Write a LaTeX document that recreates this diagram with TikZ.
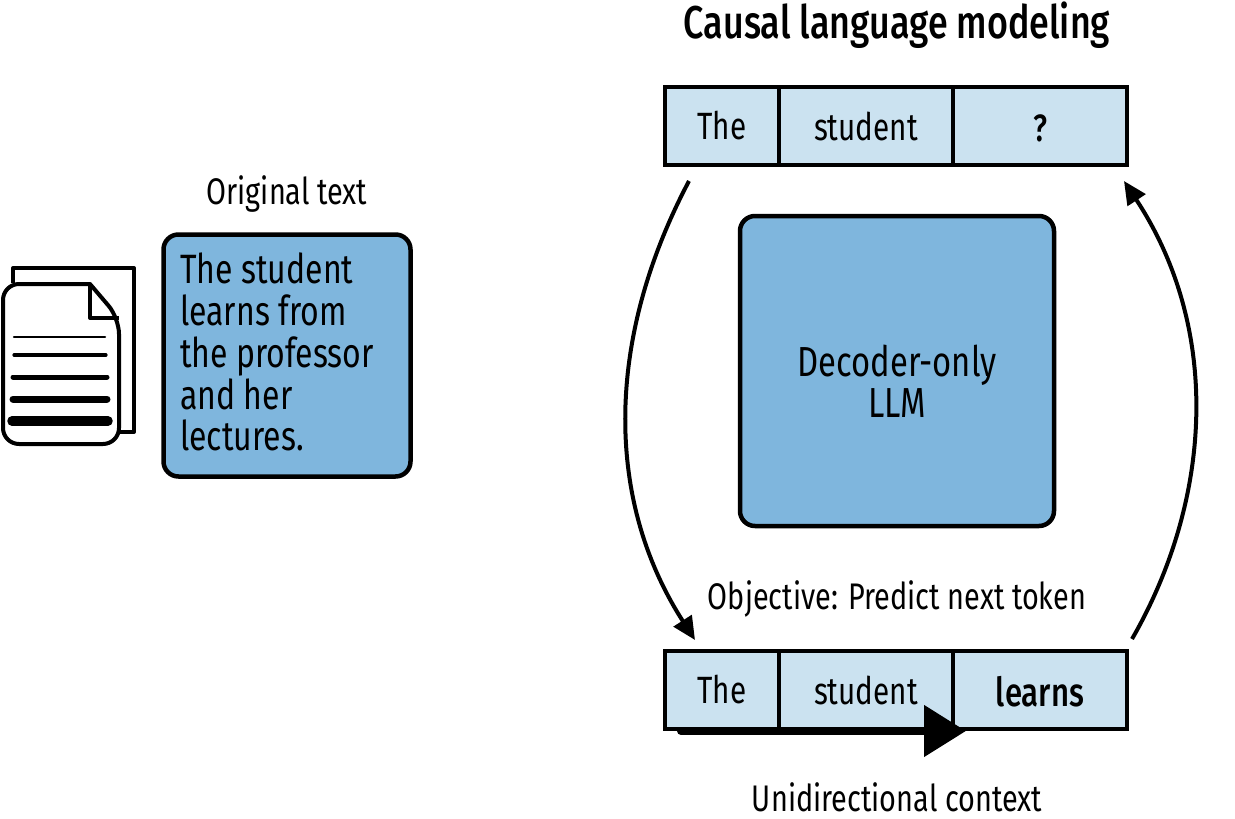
\documentclass[tikz,border=0pt]{standalone}
\usepackage{fontspec}
\setmainfont{Fira Sans}[FakeStretch=0.78]
\newfontfamily\medfont{Fira Sans Medium}[FakeStretch=0.78]
\usetikzlibrary{arrows.meta}
\definecolor{midblue}{HTML}{7FB6DD}
\definecolor{paleblue}{HTML}{CBE2F0}
\tikzset{
  x=1pt,y=-1pt,
  bigbox/.style={draw=black,line width=4.5pt,fill=midblue,rounded corners=15pt},
  cell/.style={draw=black,line width=4pt,fill=paleblue,minimum height=78pt,inner sep=0pt,anchor=west},
  lbl/.style={font=\fontsize{37}{42}\selectfont,inner sep=0pt,text=black},
  bodytxt/.style={font=\fontsize{41}{41.7}\selectfont,inner sep=0pt,align=left,text=black},
  curve/.style={line width=4pt,-{Triangle[length=23pt,width=21pt]}},
  doc/.style={draw=black,line width=4pt,line join=round},
  rule/.style={draw=black,line cap=round}
}
\begin{document}
\begin{tikzpicture}
\useasboundingbox (0,0) rectangle (1235,819);
% title
\node[lbl,font=\fontsize{46}{50}\medfont] (title) at (897,25) {Causal language modeling};
% top tokens
\node[cell,minimum width=114pt] (t1) at (663,126) {};
\node[cell,minimum width=174pt] (t2) at (777,126) {};
\node[cell,minimum width=174pt] (t3) at (951,126) {};
\node[lbl,font=\fontsize{38}{42}\selectfont] at (722,126) {The};
\node[lbl,font=\fontsize{38}{42}\selectfont] at (866,126) {student};
\node[lbl,font=\fontsize{38}{42}\medfont] at (1040,128) {?};
% bottom tokens
\node[cell,minimum width=114pt] (b1) at (663,690) {};
\node[cell,minimum width=174pt] (b2) at (777,690) {};
\node[cell,minimum width=174pt] (b3) at (951,690) {};
\node[lbl,font=\fontsize{38}{42}\selectfont] at (722,690) {The};
\node[lbl,font=\fontsize{38}{42}\selectfont] at (866,690) {student};
\node[lbl,font=\fontsize{40}{42}\medfont] at (1040,692) {learns};
% centre
\node[bigbox,minimum width=314pt,minimum height=310pt,inner sep=0pt] (llm) at (897,371) {};
\node[lbl,font=\fontsize{42}{41.5}\selectfont,align=center] at (897,381) {Decoder-only\\LLM};
\node[lbl] (obj) at (897,598.5) {Objective: Predict next token};
\node[lbl] (uni) at (897,797) {Unidirectional context};
% curved arrows
\coordinate (ca) at (689,181);
\coordinate (cb) at (695,640);
\coordinate (cc) at (1132,639);
\coordinate (cd) at (1124,181);
\draw[curve] (ca) .. controls (605,340) and (605,500) .. (cb);
\draw[curve] (cc) .. controls (1212,500) and (1222,330) .. (cd);
% unidirectional arrow
\coordinate (ua) at (681,731);
\coordinate (ub) at (966,731);
\draw[line width=8pt,line cap=round,-{Triangle[length=42pt,width=50pt]}] (ua) -- (ub);
% original text
\node[lbl] (orig) at (287,194.5) {Original text};
\node[bigbox,minimum width=247pt,minimum height=242pt,inner sep=0pt] (txt) at (287,355.5) {};
\node[bodytxt,anchor=north west] at (180,253) {The student\\learns from\\the professor\\and her\\lectures.};
% document icon
\draw[doc] (13,283) -- (13,268) -- (134,268) -- (134,432) -- (120,432);
\draw[doc,fill=white,rounded corners=16pt] (90,284) -- (3,284) -- (3,444) -- (119,444) -- (119,318) [sharp corners] -- cycle;
\draw[doc,line width=4pt] (90,284) -- (90,318) -- (119,318);
\draw[rule,line width=2.5pt] (14,337) -- (105,337);
\draw[rule,line width=3.2pt] (14,355) -- (106,355);
\draw[rule,line width=5pt] (13,377) -- (107,377);
\draw[rule,line width=7pt] (13,399) -- (107,399);
\draw[rule,line width=9.5pt] (12,421) -- (108,421);
\end{tikzpicture}
\end{document}
